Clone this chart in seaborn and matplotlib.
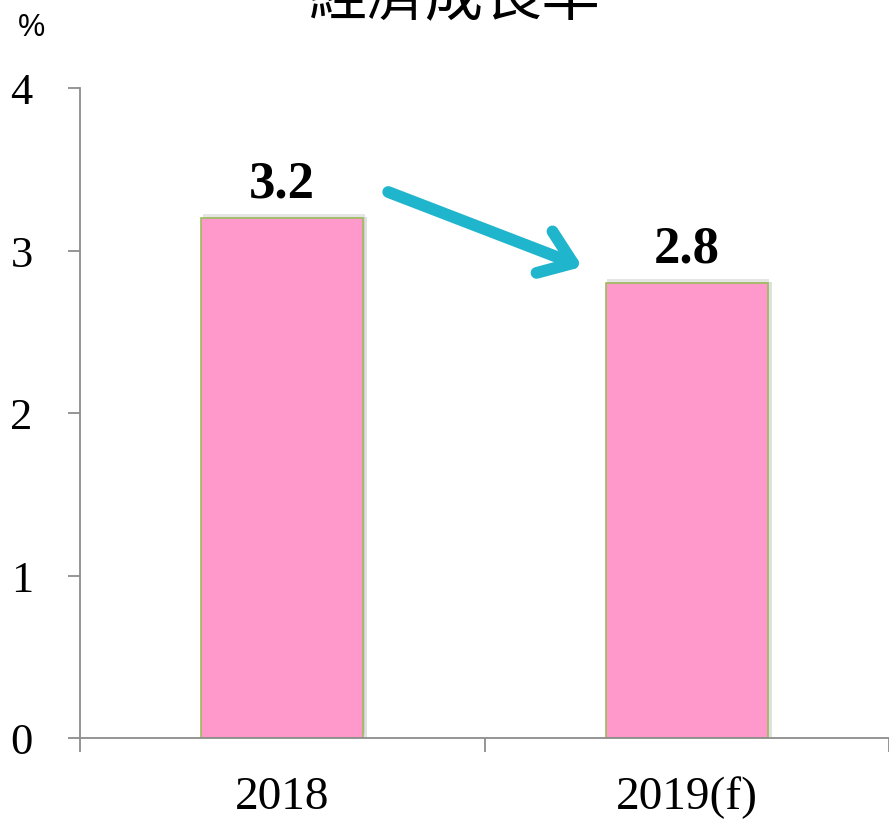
import matplotlib
matplotlib.use("Agg")
import matplotlib.pyplot as plt
import matplotlib.patheffects as pe
from matplotlib.ticker import FixedLocator
import pandas as pd
import seaborn as sb

# chart data
years = ["2018", "2019(f)"]
growth = [3.2, 2.8]
value_labels = ["3.2", "2.8"]
yticks = [0, 1, 2, 3, 4]

# colors
barcolor = "#FF99CC"
edgecolor = "#9BBB59"
arrowcolor = "#1FB5CC"
axiscolor = "#8C8C8C"

sb.set_style("white")
plt.rcParams['font.family'] = ['Liberation Serif', 'DejaVu Serif']
plt.rcParams['text.color'] = 'black'
plt.rcParams['xtick.labelcolor'] = 'black'
plt.rcParams['ytick.labelcolor'] = 'black'

df = pd.DataFrame({"year": years, "growth": growth})

fig = plt.figure(figsize=(8.89, 8.2), dpi=100)
ax = fig.add_axes([80/889, 81/820, 1 - 80/889, 650/820])

sb.barplot(data=df, x="year", y="growth", color=barcolor, saturation=1,
           width=0.4, edgecolor=edgecolor, linewidth=1.2, ax=ax)

# soft shadow around bars
for p in ax.patches:
    p.set_path_effects([pe.SimplePatchShadow(offset=(3, 1), shadow_rgbFace="#9A9A9A", alpha=0.3),
                        pe.SimplePatchShadow(offset=(1, 3), shadow_rgbFace="#9A9A9A", alpha=0.25),
                        pe.Normal()])

ax.set_xlim(-0.5, 1.5)
ax.set_ylim(0, 4)
ax.set_yticks(yticks)
ax.set_xlabel("")
ax.set_ylabel("")

# value labels
for i, v in enumerate(growth):
    ax.text(i, v + 0.13, value_labels[i], ha="center", va="baseline",
            fontsize=38, fontweight="bold", color="black")

# spines and ticks
for b in ["top", "right"]:
    ax.spines[b].set_visible(False)
for b in ["left", "bottom"]:
    ax.spines[b].set_color(axiscolor)
    ax.spines[b].set_linewidth(1.3)

ax.tick_params(axis="y", direction="out", length=9, width=1.3, color=axiscolor,
               labelsize=32, pad=25, left=True)
ax.tick_params(axis="x", which="major", length=0, labelsize=34, pad=27)
ax.xaxis.set_minor_locator(FixedLocator([-0.5, 0.5, 1.5]))
ax.tick_params(axis="x", which="minor", direction="out", length=10, width=1.3,
               color=axiscolor, bottom=True)

# trend arrow
ax.annotate("", xy=(0.742, 2.90), xytext=(0.262, 3.36),
            arrowprops=dict(arrowstyle="->,head_length=0.55,head_width=0.4",
                            lw=8.5, color=arrowcolor, mutation_scale=40,
                            capstyle="round", joinstyle="round",
                            shrinkA=0, shrinkB=0))

# title (cut at top in the original) and unit
fig.text(455/889, 1 - 15/820, "經濟成長率", ha="center", va="baseline",
         fontsize=42, fontweight="light", family=["Noto Sans CJK TC", "DejaVu Sans"])
fig.text(31/889, 1 - 36/820, "%", ha="center", va="baseline",
         fontsize=22, family=["Liberation Sans", "DejaVu Sans"])

plt.savefig("out.png", dpi=100)
